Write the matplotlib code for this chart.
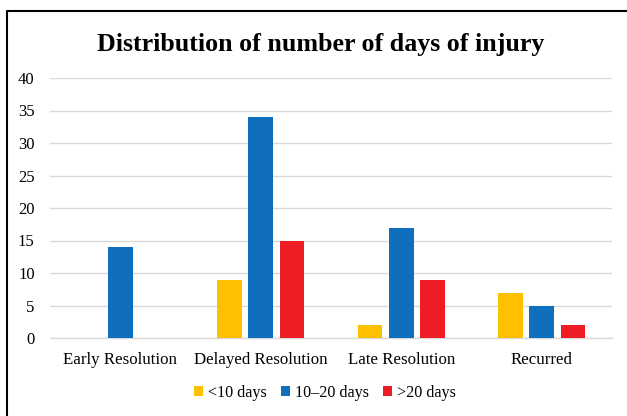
import matplotlib
matplotlib.use("Agg")
import matplotlib.pyplot as plt
from matplotlib.lines import Line2D
import numpy as np

categories = ["Early Resolution", "Delayed Resolution", "Late Resolution", "Recurred"]
series_names = ["<10 days", "10\u201320 days", ">20 days"]
lt10 = [0, 9, 2, 7]
d10_20 = [14, 34, 17, 5]
gt20 = [0, 15, 9, 2]
colors = ["#FFC000", "#0F6EBE", "#EE1C25"]
yticks = [0, 5, 10, 15, 20, 25, 30, 35, 40]

plt.rcParams['font.family'] = ['Liberation Serif', 'DejaVu Serif']

fig = plt.figure(figsize=(6.27, 4.16), dpi=100)
ax = fig.add_axes([50/627, 1-338/416, (612-50)/627, (338-78)/416])

x = np.arange(len(categories))
w = 0.175
offs = [-0.222, 0, 0.222]
for vals, name, c, o in zip([lt10, d10_20, gt20], series_names, colors, offs):
    ax.bar(x + o, vals, width=w, color=c, label=name, zorder=3)

ax.set_xlim(-0.5, 3.5)
ax.set_ylim(0, 40)
ax.set_yticks(yticks)
ax.set_yticklabels([str(t) for t in yticks], fontsize=12)
ax.set_xticks(x)
ax.set_xticklabels(categories, fontsize=12.2)
ax.tick_params(length=0)
ax.tick_params(axis='x', pad=10)
ax.tick_params(axis='y', pad=11)
ax.grid(axis='y', color='#D9D9D9', linewidth=1, zorder=0)
for s in ['top', 'right', 'left']:
    ax.spines[s].set_visible(False)
ax.spines['bottom'].set_color('#D9D9D9')
ax.spines['bottom'].set_linewidth(1)

fig.text(0.511, 1-44/416, "Distribution of number of days of injury", ha='center', va='center',
         fontsize=18.7, fontweight='bold')

fig.legend(loc='center', bbox_to_anchor=(0.518, 1-393/416), ncol=3, frameon=False, fontsize=11.6,
           handlelength=0.55, handleheight=0.55, handletextpad=0.3, columnspacing=0.9)

fig.add_artist(Line2D([6.5/627, 6.5/627, 1], [0, 1-11/416, 1-11/416], color='black', linewidth=1.5,
                      transform=fig.transFigure))

fig.savefig("out.png", dpi=100)
